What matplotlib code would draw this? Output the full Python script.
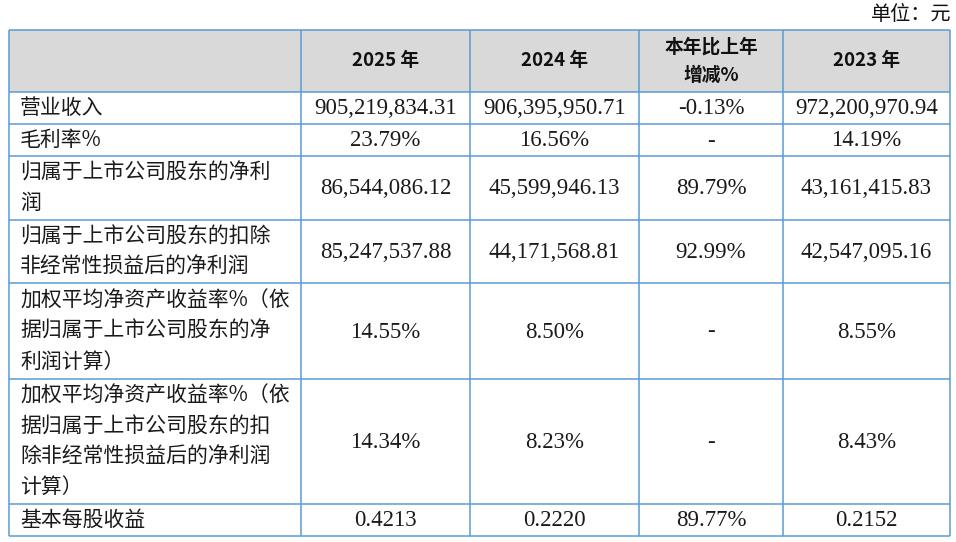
import matplotlib
matplotlib.use("Agg")
import matplotlib.pyplot as plt

# ---- data ----
unit_label = "单位：元"
headers = ["", "2025 年", "2024 年", "本年比上年\n增减%", "2023 年"]
row_labels = [
    "营业收入",
    "毛利率%",
    "归属于上市公司股东的净利\n润",
    "归属于上市公司股东的扣除\n非经常性损益后的净利润",
    "加权平均净资产收益率%（依\n据归属于上市公司股东的净\n利润计算）",
    "加权平均净资产收益率%（依\n据归属于上市公司股东的扣\n除非经常性损益后的净利润\n计算）",
    "基本每股收益",
]
values_2025 = ["905,219,834.31", "23.79%", "86,544,086.12", "85,247,537.88", "14.55%", "14.34%", "0.4213"]
values_2024 = ["906,395,950.71", "16.56%", "45,599,946.13", "44,171,568.81", "8.50%", "8.23%", "0.2220"]
values_change = ["-0.13%", "-", "89.79%", "92.99%", "-", "-", "89.77%"]
values_2023 = ["972,200,970.94", "14.19%", "43,161,415.83", "42,547,095.16", "8.55%", "8.43%", "0.2152"]

# ---- layout (pixels) ----
W, H = 956, 542
col_edges = [9, 301, 470, 639, 783, 950]
row_edges = [30, 92, 124, 156, 220, 283, 379, 504, 536]
line_step = 30.5
border = "#5B9BD5"
header_fill = "#D9D9D9"

cjk = ["Noto Sans CJK SC", "DejaVu Sans"]
num_font = ["Liberation Serif", "Noto Sans CJK SC"]

fig = plt.figure(figsize=(W / 100, H / 100), dpi=100)
ax = fig.add_axes([0, 0, 1, 1])
ax.set_xlim(0, W)
ax.set_ylim(H, 0)
ax.axis("off")

# header background
ax.fill_between([col_edges[0], col_edges[-1]], row_edges[0], row_edges[1],
                color=header_fill, lw=0, zorder=0)

# grid lines
ax.hlines(row_edges, col_edges[0], col_edges[-1], colors=border, lw=1.1, zorder=2)
ax.vlines(col_edges, row_edges[0], row_edges[-1], colors=border, lw=1.1, zorder=2)

# unit label
ax.text(col_edges[-1] + 1, 15, unit_label, ha="right", va="center",
        family=cjk, fontsize=14.5, color="#111111")

# headers
for j, h in enumerate(headers):
    if not h:
        continue
    cx = (col_edges[j] + col_edges[j + 1]) / 2
    cy = (row_edges[0] + row_edges[1]) / 2
    lines = h.split("\n")
    n = len(lines)
    for k, ln in enumerate(lines):
        y = cy + (k - (n - 1) / 2) * 28
        ax.text(cx, y, ln, ha="center", va="center", family=cjk,
                fontsize=13.5, fontweight="bold", color="#111111")

# body
columns = [values_2025, values_2024, values_change, values_2023]
for i, lab in enumerate(row_labels):
    top, bot = row_edges[i + 1], row_edges[i + 2]
    cy = (top + bot) / 2
    lines = lab.split("\n")
    n = len(lines)
    for k, ln in enumerate(lines):
        y = cy + (k - (n - 1) / 2) * line_step
        ax.text(col_edges[0] + 11, y, ln, ha="left", va="center",
                family=cjk, fontsize=15, color="#1a1a1a")
    for j, col in enumerate(columns):
        cx = (col_edges[j + 1] + col_edges[j + 2]) / 2
        ax.text(cx, cy + 1, col[i], ha="center", va="center",
                family=num_font, fontsize=16.5, color="#1a1a1a")

fig.savefig("out.png", dpi=100)
